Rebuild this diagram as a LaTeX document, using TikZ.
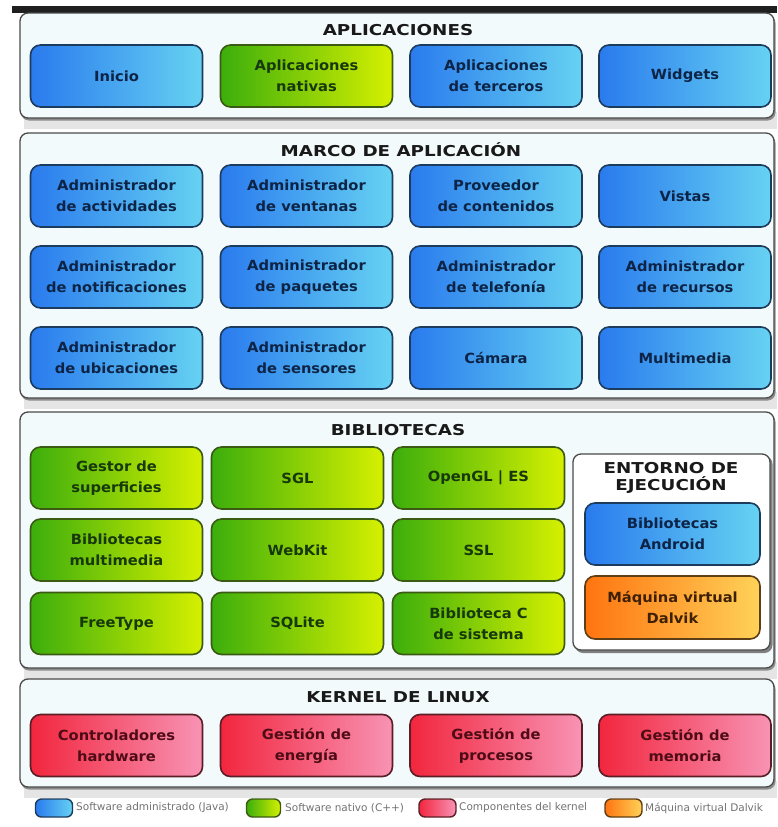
\documentclass[tikz,border=0pt]{standalone}
\usepackage{fontspec}
\setmainfont{DejaVu Sans}
\newfontfamily\boxfont{DejaVu Sans}[FakeStretch=1.05]
\newfontfamily\ttlfont{DejaVu Sans}[FakeStretch=1.22]
\newfontfamily\legfont{DejaVu Sans}
\definecolor{panelfill}{HTML}{F3FAFC}
\definecolor{panelline}{HTML}{4A4A4A}
\definecolor{bluel}{HTML}{2A7BEE}
\definecolor{bluer}{HTML}{66D2F2}
\definecolor{bluebd}{HTML}{1C3C5E}
\definecolor{bluetx}{HTML}{0E2446}
\definecolor{greenl}{HTML}{3CAE0C}
\definecolor{greenr}{HTML}{D6F000}
\definecolor{greenbd}{HTML}{3B5A14}
\definecolor{greentx}{HTML}{17380A}
\definecolor{redl}{HTML}{F2263E}
\definecolor{redr}{HTML}{F893B4}
\definecolor{redbd}{HTML}{5A1E26}
\definecolor{redtx}{HTML}{4E0C16}
\definecolor{orangel}{HTML}{FF7410}
\definecolor{oranger}{HTML}{FFD258}
\definecolor{orangebd}{HTML}{5E3E14}
\definecolor{orangetx}{HTML}{3E2004}
\newcommand\drawpanel[4]{%
  \fill[black!10] (#1+4,#4-6) rectangle (#3+3,#4+11);
  \fill[black!45, rounded corners=8pt] (#1+1,#2+2) rectangle (#3+1.5,#4+2.5);
  \filldraw[fill=panelfill, draw=panelline, line width=1.3pt, rounded corners=8pt] (#1,#2) rectangle (#3,#4);
}
\tikzset{
  cell/.style={draw, line width=1.6pt, rounded corners=10pt, minimum width=172pt,
    minimum height=62pt, inner sep=0pt, align=center,
    font=\boxfont\bfseries\fontsize{14}{21}\selectfont},
  jbox/.style={cell, left color=bluel, right color=bluer, draw=bluebd, text=bluetx},
  nbox/.style={cell, left color=greenl, right color=greenr, draw=greenbd, text=greentx},
  kbox/.style={cell, left color=redl, right color=redr, draw=redbd, text=redtx},
  dbox/.style={cell, left color=orangel, right color=oranger, draw=orangebd, text=orangetx},
  ttl/.style={font=\ttlfont\bfseries\fontsize{15}{17}\selectfont, text=black!90, inner sep=0pt, align=center},
  legbox/.style={draw, line width=1.4pt, rounded corners=6pt, minimum width=37pt, minimum height=18pt, inner sep=0pt},
  legtxt/.style={anchor=west, inner sep=0pt, font=\legfont\fontsize{10.5}{12}\selectfont, text=black!55}
}
\begin{document}
\begin{tikzpicture}[x=1pt,y=-1pt]
\useasboundingbox (0,0) rectangle (777,827);
\fill[white] (0,0) rectangle (777,827);
\fill[black!88] (12,6) rectangle (777,12.5);

% panels
\drawpanel{20}{13}{774}{118}
\drawpanel{20}{133}{774}{398}
\drawpanel{20}{412}{774}{668}
\drawpanel{20}{679}{774}{787}

% APLICACIONES
\node[ttl] (t1) at (398,30) {APLICACIONES};
\node[jbox] (inicio) at (116.5,76) {Inicio};
\node[nbox] (nativas) at (306.5,76) {Aplicaciones\\nativas};
\node[jbox] (terceros) at (496,76) {Aplicaciones\\de terceros};
\node[jbox] (widgets) at (685,76) {Widgets};

% MARCO DE APLICACION
\node[ttl] (t2) at (401,150) {MARCO DE APLICACIÓN};
\node[jbox] (act) at (116.5,196) {Administrador\\de actividades};
\node[jbox] (ven) at (306.5,196) {Administrador\\de ventanas};
\node[jbox] (con) at (496,196) {Proveedor\\de contenidos};
\node[jbox] (vis) at (685,196) {Vistas};
\node[jbox] (not) at (116.5,277) {Administrador\\de notificaciones};
\node[jbox] (paq) at (306.5,277) {Administrador\\de paquetes};
\node[jbox] (tel) at (496,277) {Administrador\\de telefonía};
\node[jbox] (rec) at (685,277) {Administrador\\de recursos};
\node[jbox] (ubi) at (116.5,358) {Administrador\\de ubicaciones};
\node[jbox] (sen) at (306.5,358) {Administrador\\de sensores};
\node[jbox] (cam) at (496,358) {Cámara};
\node[jbox] (mul) at (685,358) {Multimedia};

% BIBLIOTECAS
\node[ttl] (t3) at (398,430) {BIBLIOTECAS};
\node[nbox] (sup) at (116.5,478) {Gestor de\\superficies};
\node[nbox] (sgl) at (297.5,478) {SGL};
\node[nbox] (ogl) at (478.5,478) {OpenGL | ES};
\node[nbox] (mm) at (116.5,550) {Bibliotecas\\multimedia};
\node[nbox] (web) at (297.5,550) {WebKit};
\node[nbox] (ssl) at (478.5,550) {SSL};
\node[nbox] (ft) at (116.5,623.5) {FreeType};
\node[nbox] (sql) at (297.5,623.5) {SQLite};
\node[nbox] (libc) at (478.5,623.5) {Biblioteca C\\de sistema};

% ENTORNO DE EJECUCION
\fill[black!50, rounded corners=8pt] (575,456) rectangle (772.5,653);
\filldraw[fill=white, draw=panelline, line width=1.3pt, rounded corners=8pt] (573,454) rectangle (770,650);
\node[ttl] (t5) at (671,478) {ENTORNO DE\\EJECUCIÓN};
\node[jbox, minimum width=175pt] (andr) at (672.5,534) {Bibliotecas\\Android};
\node[dbox, minimum width=175pt, minimum height=63pt] (dalvik) at (672.5,607.5) {Máquina virtual\\Dalvik};

% KERNEL
\node[ttl] (t4) at (398,697) {KERNEL DE LINUX};
\node[kbox] (hw) at (116.5,745.5) {Controladores\\hardware};
\node[kbox] (ene) at (306.5,745.5) {Gestión de\\energía};
\node[kbox] (pro) at (496,745.5) {Gestión de\\procesos};
\node[kbox] (mem) at (685,745.5) {Gestión de\\memoria};

% legend
\node[legbox, left color=bluel, right color=bluer, draw=bluebd] (l1) at (54,808) {};
\node[legtxt] (l1t) at (76,808) {Software administrado (Java)};
\node[legbox, left color=greenl, right color=greenr, draw=greenbd, minimum width=34pt] (l2) at (263.5,808) {};
\node[legtxt] (l2t) at (285,808) {Software nativo (C++)};
\node[legbox, left color=redl, right color=redr, draw=redbd] (l3) at (437.5,808) {};
\node[legtxt] (l3t) at (459,808) {Componentes del kernel};
\node[legbox, left color=orangel, right color=oranger, draw=orangebd] (l4) at (623.5,808) {};
\node[legtxt] (l4t) at (645,808) {Máquina virtual Dalvik};
\end{tikzpicture}
\end{document}
